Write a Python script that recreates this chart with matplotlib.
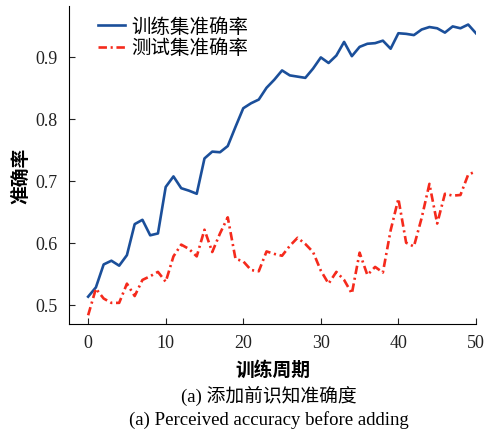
import matplotlib
matplotlib.use("Agg")
import matplotlib.pyplot as plt
import numpy as np

plt.rcParams['font.family'] = ['Liberation Serif', 'Noto Sans CJK SC']

# epochs 0..50
epochs = np.arange(51)

train_acc = [0.513, 0.528, 0.565, 0.571, 0.563, 0.580, 0.630, 0.637, 0.612, 0.615,
             0.690, 0.707, 0.688, 0.684, 0.679, 0.736, 0.747, 0.746, 0.756, 0.787,
             0.817, 0.825, 0.831, 0.850, 0.863, 0.878, 0.870, 0.868, 0.866, 0.881,
             0.899, 0.890, 0.902, 0.924, 0.901, 0.916, 0.921, 0.922, 0.926, 0.913,
             0.938, 0.937, 0.935, 0.944, 0.948, 0.946, 0.939, 0.949, 0.946, 0.952,
             0.938]

test_acc = [0.483, 0.526, 0.510, 0.503, 0.503, 0.534, 0.514, 0.540, 0.546, 0.553,
            0.537, 0.578, 0.597, 0.590, 0.578, 0.621, 0.585, 0.615, 0.641, 0.574,
            0.570, 0.556, 0.554, 0.586, 0.582, 0.579, 0.595, 0.608, 0.598, 0.585,
            0.555, 0.534, 0.553, 0.540, 0.518, 0.584, 0.548, 0.561, 0.552, 0.620,
            0.671, 0.600, 0.594, 0.640, 0.695, 0.631, 0.679, 0.676, 0.677, 0.710,
            0.715]

fig = plt.figure(figsize=(5.01, 4.35), dpi=100)
ax = fig.add_axes([0.138, 0.253, 0.812, 0.731])

ax.plot(epochs, train_acc, color='#1b4f9a', lw=1.9, label='训练集准确率')
ax.plot(epochs, test_acc, color='#f52a1c', lw=1.9, dashes=[3.2, 1.4, 0.8, 1.4],
        label='测试集准确率')

ax.set_xlim(-2.45, 50)
ax.set_ylim(0.469, 0.982)
ax.set_xticks([0, 10, 20, 30, 40, 50])
ax.set_yticks([0.5, 0.6, 0.7, 0.8, 0.9])
ax.tick_params(direction='in', length=4, labelsize=13, colors='#222222')
ax.tick_params(axis='x', pad=7.5)
ax.tick_params(axis='y', pad=8.5)
ax.spines['top'].set_visible(False)
ax.spines['right'].set_visible(False)

ax.set_xlabel('训练周期', fontsize=13.5, fontweight='bold',
              family=['Noto Sans CJK SC'], labelpad=6)
ax.set_ylabel('准确率', fontsize=13.5, fontweight='bold',
              family=['Noto Sans CJK SC'])
ax.yaxis.set_label_coords(-0.095, 0.469)

ax.legend(loc='upper left', frameon=False,
          bbox_to_anchor=(0.028, 1.025), handlelength=1.4, handletextpad=0.3,
          labelspacing=0.05, prop={'family': ['Noto Sans CJK SC'], 'size': 14})

fig.text(0.537, 0.0897, '(a) 添加前识知准确度', ha='center', va='center', fontsize=13.5,
         family=['Liberation Serif', 'Noto Sans CJK SC'])
fig.text(0.537, 0.0345, '(a) Perceived accuracy before adding', ha='center',
         va='center', fontsize=13.5)

fig.savefig('out.png', dpi=100)
